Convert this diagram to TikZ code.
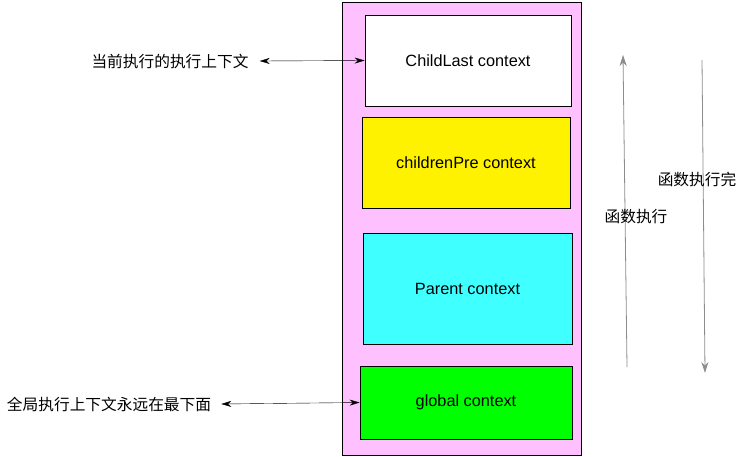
\documentclass[tikz,border=0pt]{standalone}
\usepackage{fontspec}
\setmainfont{Liberation Sans}
\newfontfamily\cjkfont{Noto Sans CJK SC}
\usetikzlibrary{arrows.meta}
\definecolor{stackpink}{HTML}{FFC0FF}
\definecolor{arrowgray}{HTML}{8C8C8C}

\begin{document}
\begin{tikzpicture}[x=1pt,y=-1pt,
  ctxbox/.style={draw,thick,minimum width=#1,inner sep=0pt,font=\fontsize{16.3}{19}\selectfont},
  note/.style={inner sep=0pt,font=\cjkfont\fontsize{15.7}{18}\selectfont},
  pointer/.style={{Stealth[length=10pt,width=6pt]}-{Stealth[length=10pt,width=6pt]}},
  flow/.style={arrowgray,thick,-{Stealth[length=11pt,width=7pt]}}]
  \useasboundingbox (0,0) rectangle (743,456);
  % call stack
  \node[draw,thick,fill=stackpink,minimum width=239pt,minimum height=453pt] (stack) at (461.5,228.5) {};
  \node[ctxbox=206pt,fill=white,minimum height=91pt] (child) at (468,60.5) {ChildLast context};
  \node[ctxbox=208pt,fill=yellow,minimum height=91pt] (pre) at (466,162.5) {childrenPre context};
  \node[ctxbox=209pt,fill={rgb,255:red,64;green,255;blue,255},minimum height=111pt] (parent) at (467.5,288.5) {Parent context};
  \node[ctxbox=212pt,fill={rgb,255:red,0;green,255;blue,0},minimum height=73pt] (global) at (466,402.5) {global context};
  % notes on the left
  \node[note] (curr) at (170,61) {当前执行的执行上下文};
  \node[note] (bottom) at (109,404) {全局执行上下文永远在最下面};
  \draw[pointer] ([xshift=11pt]curr.east) -- (child.west);
  \draw[pointer] ([xshift=10pt]bottom.east) -- (global.west);
  % execution direction
  \coordinate (up0) at (627,367);
  \coordinate (up1) at (623,55);
  \coordinate (dn0) at (702,60);
  \coordinate (dn1) at (705,373);
  \draw[flow] (up0) -- (up1);
  \draw[flow] (dn0) -- (dn1);
  \node[note] (run) at (636,217) {函数执行};
  \node[note] (done) at (697,179) {函数执行完};
\end{tikzpicture}
\end{document}
